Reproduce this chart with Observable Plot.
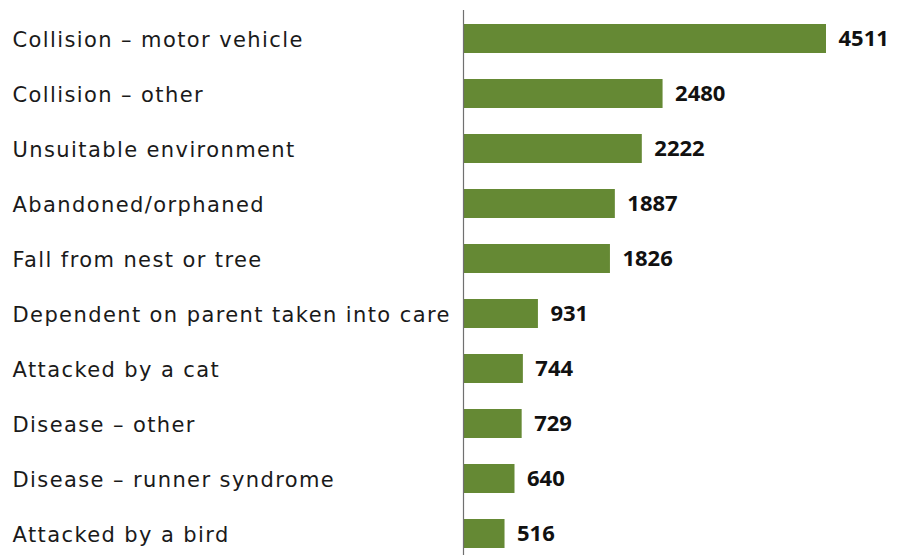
<!DOCTYPE html>
<html>
<head>
<meta charset="utf-8">
<script src="https://cdn.jsdelivr.net/npm/d3@7"></script>
<script src="https://cdn.jsdelivr.net/npm/@observablehq/plot@0.6"></script>
<style>
  html, body { margin: 0; padding: 0; background: #fff; }
  #chart svg { display: block; }
</style>
</head>
<body>
<div id="chart"></div>
<script>
const causes = [
  "Collision – motor vehicle",
  "Collision – other",
  "Unsuitable environment",
  "Abandoned/orphaned",
  "Fall from nest or tree",
  "Dependent on parent taken into care",
  "Attacked by a cat",
  "Disease – other",
  "Disease – runner syndrome",
  "Attacked by a bird"
];
const counts = [4511, 2480, 2222, 1887, 1826, 931, 744, 729, 640, 516];

const data = causes.map((c, i) => ({cause: c, count: counts[i]}));

const chart = Plot.plot({
  width: 906,
  height: 555,
  marginLeft: 463,
  marginRight: 80,
  marginTop: 23,
  marginBottom: 5.5,
  style: {fontFamily: "'Open Sans', sans-serif", background: "#fff"},
  x: {domain: [0, 4511], axis: null},
  y: {domain: causes, axis: null, paddingInner: 0.475, paddingOuter: 0},
  marks: [
    Plot.barX(data, {x: "count", y: "cause", fill: "#658934"}),
    Plot.ruleX([0], {stroke: "#707070", strokeWidth: 1.2, insetTop: -13, insetBottom: -6}),
    Plot.text(data, {y: "cause", text: "cause", frameAnchor: "left", textAnchor: "start", dx: -451, dy: 1, fontSize: 21, fontFamily: "'DejaVu Sans', sans-serif", fill: "#1a1a1a"}),
    Plot.text(data, {x: "count", y: "cause", text: d => String(d.count), textAnchor: "start", dx: 12, fontSize: 22, fontWeight: "bold", fill: "#111"})
  ]
});
d3.select(chart).selectAll('g[aria-label="text"]').filter((d, i) => i === 0).attr("letter-spacing", "1.4");
document.getElementById("chart").appendChild(chart);
</script>
</body>
</html>
